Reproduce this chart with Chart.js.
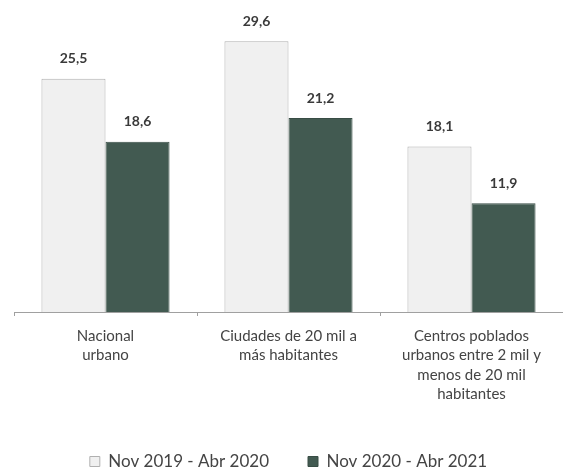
<!DOCTYPE html>
<html lang="es">
<head>
  <meta charset="utf-8">
  <title>Nov 2019 - Abr 2021</title>
  <script src="https://cdn.jsdelivr.net/npm/chart.js@4/dist/chart.umd.min.js"></script>
  <style>
    html, body { margin: 0; padding: 0; background: #fff; overflow: hidden; }
    #wrap { position: relative; width: 563px; height: 470px; }
  </style>
</head>
<body>
  <div id="wrap"><canvas id="chart"></canvas></div>
  <script>
    var categories = [
      ["Nacional", "urbano"],
      ["Ciudades de 20 mil a", "más habitantes"],
      ["Centros poblados", "urbanos entre 2 mil y", "menos de 20 mil", "habitantes"]
    ];
    var seriesNames = ["Nov 2019 - Abr 2020", "Nov 2020 - Abr 2021"];
    var period2019 = [25.5, 29.6, 18.1];
    var period2020 = [18.6, 21.2, 11.9];

    // value labels above each bar, decimal comma
    var valueLabels = {
      id: "valueLabels",
      afterDatasetsDraw: function(chart) {
        var ctx = chart.ctx;
        ctx.save();
        ctx.font = "bold 14px Lato, sans-serif";
        ctx.fillStyle = "#3a3a3a";
        ctx.textAlign = "center";
        ctx.textBaseline = "middle";
        chart.data.datasets.forEach(function(ds, i) {
          chart.getDatasetMeta(i).data.forEach(function(bar, j) {
            ctx.fillText(ds.data[j].toFixed(1).replace(".", ","), bar.x, bar.y - 20);
          });
        });
        ctx.restore();
      }
    };

    new Chart(document.getElementById("chart"), {
      type: "bar",
      data: {
        labels: categories,
        datasets: [
          {
            label: seriesNames[0],
            data: period2019,
            backgroundColor: "#f0f0f0",
            borderColor: "#b0b0b0",
            borderWidth: 1
          },
          {
            label: seriesNames[1],
            data: period2020,
            backgroundColor: "#425a51",
            borderColor: "#384d45",
            borderWidth: 1
          }
        ]
      },
      options: {
        responsive: true,
        maintainAspectRatio: false,
        animation: false,
        layout: { padding: { top: 1, left: 14, right: 0, bottom: -10 } },
        datasets: { bar: { categoryPercentage: 0.7, barPercentage: 1.0 } },
        scales: {
          x: {
            grid: {
              display: true,
              drawOnChartArea: false,
              offset: true,
              tickLength: 4,
              color: "#a0a0a0"
            },
            border: { color: "#a0a0a0" },
            ticks: {
              color: "#444",
              font: { family: "Lato, sans-serif", size: 15, lineHeight: 1.3 },
              padding: 10,
              maxRotation: 0,
              autoSkip: false
            }
          },
          y: {
            display: false,
            min: 0,
            max: 34
          }
        },
        plugins: {
          tooltip: { enabled: false },
          legend: {
            position: "bottom",
            labels: {
              color: "#444",
              font: { family: "Lato, sans-serif", size: 17 },
              boxWidth: 10,
              boxHeight: 10,
              padding: 39
            }
          }
        }
      },
      plugins: [valueLabels]
    });
  </script>
</body>
</html>
